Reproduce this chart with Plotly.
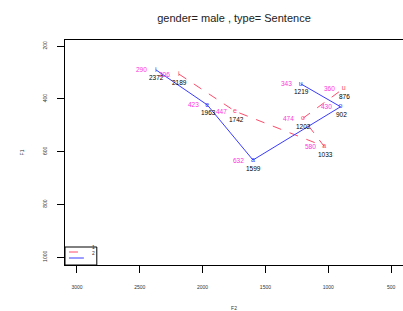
import plotly.graph_objects as go

vowels = ["i", "e", "a", "o", "u"]
blue_f2 = [2372, 1963, 1599, 902, 1219]
blue_f1 = [290, 423, 632, 430, 343]
red_f2 = [2189, 1742, 1033, 1202, 876]
red_f1 = [306, 447, 580, 474, 360]
series_names = ["1", "2"]
x_ticks = [3000, 2500, 2000, 1500, 1000, 500]
y_ticks = [200, 400, 600, 800, 1000]

BLUE = "#3a3aff"
RED = "#ff4a6a"
MAG = "#ff33dd"
FONT = "Liberation Sans"

fig = go.Figure()
annotations = []

def add_series(f2, f1, color, dash, name):
    fig.add_trace(go.Scatter(x=f2, y=f1, mode="lines", name=name,
                             line=dict(color=color, width=1, dash=dash),
                             showlegend=False))
    fig.add_trace(go.Scatter(x=f2, y=f1, mode="text", text=vowels,
                             textfont=dict(color=color, size=7, family=FONT),
                             showlegend=False, hoverinfo="skip"))
    for xv, yv in zip(f2, f1):
        annotations.append(dict(x=xv, y=yv, text=str(yv), showarrow=False,
                                xshift=-14, yshift=0,
                                font=dict(color=MAG, size=6.5, family=FONT)))
        annotations.append(dict(x=xv, y=yv, text=str(xv), showarrow=False,
                                xshift=1, yshift=-8,
                                font=dict(color="black", size=6.5, family=FONT)))

add_series(red_f2, red_f1, RED, "dash", series_names[0])
add_series(blue_f2, blue_f1, BLUE, "solid", series_names[1])

# small legend box (bottom-left, inside the frame)
shapes = [
    dict(type="rect", xref="paper", yref="paper", x0=0, x1=32 / 340, y0=0, y1=18 / 225,
         line=dict(color="black", width=1), fillcolor="white", layer="above"),
    dict(type="line", xref="paper", yref="paper", x0=4 / 340, x1=19 / 340,
         y0=13 / 225, y1=13 / 225, line=dict(color=RED, width=1, dash="dash"), layer="above"),
    dict(type="line", xref="paper", yref="paper", x0=4 / 340, x1=19 / 340,
         y0=7 / 225, y1=7 / 225, line=dict(color=BLUE, width=1), layer="above"),
]
for name, yy in zip(series_names, [13, 7]):
    annotations.append(dict(xref="paper", yref="paper", x=25 / 340, y=yy / 225,
                            text=name, showarrow=False,
                            font=dict(size=5, color="#333", family=FONT)))

fig.update_layout(
    width=403, height=311,
    margin=dict(l=65, r=0, t=40, b=46, autoexpand=False),
    paper_bgcolor="white", plot_bgcolor="white",
    title=dict(text="gender= male , type= Sentence", x=0.5, xanchor="center",
               xref="paper", y=1 - 18 / 311, yref="container", yanchor="middle",
               font=dict(size=11, family=FONT, color="#222")),
    font=dict(family=FONT, color="#333"),
    annotations=annotations,
    shapes=shapes,
    showlegend=False,
)
fig.update_xaxes(range=[3095, 405], tickvals=x_ticks, ticktext=[str(v) for v in x_ticks],
                 automargin=False,
                 showgrid=False, zeroline=False, showline=True, linecolor="black",
                 linewidth=1, mirror=True, ticks="outside", ticklen=7, tickcolor="black",
                 ticklabelstandoff=10,
                 tickfont=dict(size=5), title=dict(text="F2", font=dict(size=5), standoff=25))
fig.update_yaxes(range=[1030, 177], tickvals=y_ticks, ticktext=[str(v) for v in y_ticks],
                 automargin=False,
                 showgrid=False, zeroline=False, showline=True, linecolor="black",
                 linewidth=1, mirror=True, ticks="outside", ticklen=7, tickcolor="black",
                 ticklabelstandoff=8,
                 tickfont=dict(size=5), tickangle=-90,
                 title=dict(text="F1", font=dict(size=5), standoff=17))

fig.write_html("out.html", config={"displayModeBar": False},
               post_script="document.body.style.margin='0px';")
